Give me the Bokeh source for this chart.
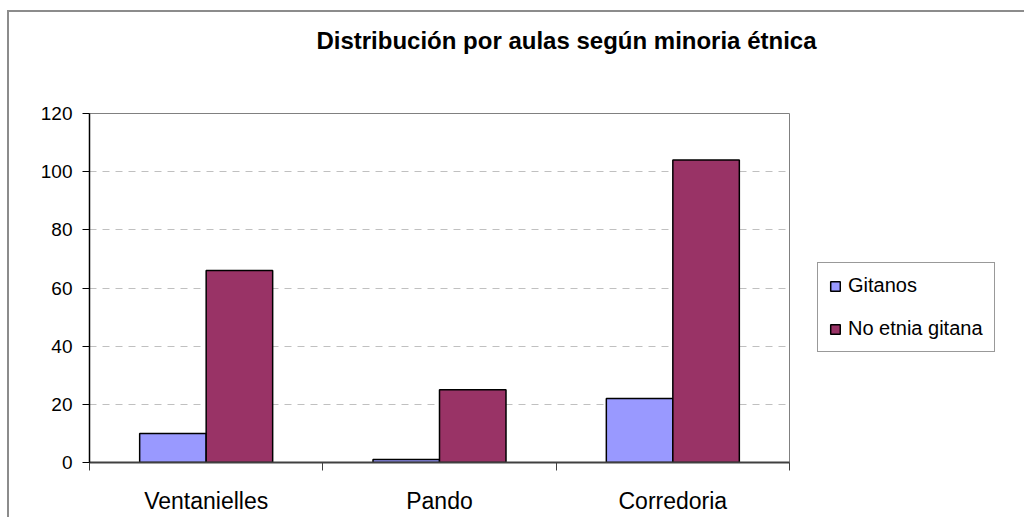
from bokeh.plotting import figure
from bokeh.models import (ColumnDataSource, Range1d, FixedTicker, Legend, LegendItem,
                          Title, LinearAxis, Grid)
from bokeh.transform import dodge
from bokeh.embed import file_html
from bokeh.resources import INLINE

# ---- data ----
categories = ["Ventanielles", "Pando", "Corredoria"]
series_names = ["Gitanos", "No etnia gitana"]
gitanos = [10, 1, 22]
no_etnia = [66, 25, 104]
y_ticks = [0, 20, 40, 60, 80, 100, 120]
title_text = "Distribución por aulas según minoria étnica"

FONT = "Liberation Sans"
positions = [i + 0.5 for i in range(len(categories))]
bar_w = 0.285

src = ColumnDataSource(dict(x=positions, cat=categories, g=gitanos, n=no_etnia))

p = figure(frame_width=700, frame_height=349, output_backend="svg", toolbar_location=None,
           x_range=Range1d(0, len(categories)), y_range=Range1d(0, 120),
           x_axis_type=None, y_axis_type=None,
           min_border_left=80, min_border_right=224, min_border_top=101, min_border_bottom=55)
p.styles = {"border-left": "2px solid #8c8c8c", "border-top": "2px solid #8c8c8c",
            "margin-left": "7px", "margin-top": "10px"}
p.background_fill_color = "white"
p.border_fill_color = "white"
p.outline_line_color = "#808080"
p.outline_line_width = 1

# axes
yaxis = LinearAxis(ticker=FixedTicker(ticks=y_ticks))
yaxis.axis_line_color = "black"
yaxis.axis_line_width = 1.5
yaxis.major_tick_out = 7
yaxis.major_tick_in = 0
yaxis.minor_tick_line_color = None
yaxis.major_tick_line_color = "black"
yaxis.major_label_text_font = FONT
yaxis.major_label_text_font_size = "19px"
yaxis.major_label_text_color = "black"
yaxis.major_label_standoff = 10
p.add_layout(yaxis, "left")

xaxis = LinearAxis(ticker=FixedTicker(ticks=positions,
                                      minor_ticks=list(range(len(categories) + 1))))
xaxis.major_label_overrides = {pos: c for pos, c in zip(positions, categories)}
xaxis.axis_line_color = "#404040"
xaxis.axis_line_width = 2
xaxis.major_tick_out = 0
xaxis.major_tick_in = 0
xaxis.major_tick_line_color = None
xaxis.minor_tick_out = 8
xaxis.minor_tick_in = 0
xaxis.minor_tick_line_color = "#404040"
xaxis.minor_tick_line_width = 1
xaxis.major_label_text_font = FONT
xaxis.major_label_text_font_size = "23px"
xaxis.major_label_text_color = "black"
xaxis.major_label_standoff = 17
p.add_layout(xaxis, "below")

grid = Grid(dimension=1, ticker=FixedTicker(ticks=y_ticks[1:-1]))
grid.grid_line_color = "#c0c0c0"
grid.grid_line_dash = "7 6"
grid.grid_line_width = 1
p.add_layout(grid, "center")

r1 = p.vbar(x=dodge("x", -bar_w / 2, range=p.x_range), top="g", width=bar_w, source=src,
            fill_color="#9999FF", line_color="black", line_width=1.5)
r2 = p.vbar(x=dodge("x", bar_w / 2, range=p.x_range), top="n", width=bar_w, source=src,
            fill_color="#993366", line_color="black", line_width=1.5)

legend = Legend(items=[LegendItem(label=series_names[0], renderers=[r1]),
                       LegendItem(label=series_names[1], renderers=[r2])],
                location=(28, 110), orientation="vertical")
legend.label_text_font = FONT
legend.label_text_font_size = "20px"
legend.label_text_color = "black"
legend.glyph_width = 12
legend.glyph_height = 12
legend.label_height = 22
legend.label_standoff = 7
legend.spacing = 20
legend.padding = 11
legend.margin = 0
legend.border_line_color = "#333333"
legend.border_line_width = 1
legend.background_fill_color = "white"
legend.background_fill_alpha = 1
p.add_layout(legend, "right")

spacer = Title(text=" ", text_font_size="10px", standoff=47)
p.add_layout(spacer, "above")
title = Title(text=title_text, align="right", offset=-27, vertical_align="bottom",
              standoff=0, text_font=FONT, text_font_size="24px", text_font_style="bold",
              text_color="black")
p.add_layout(title, "above")

open("out.html", "w").write(file_html(p, INLINE))
